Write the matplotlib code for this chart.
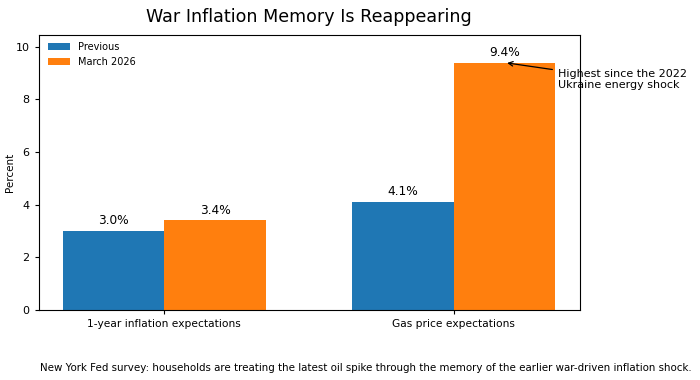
import matplotlib
matplotlib.use("Agg")
import matplotlib.pyplot as plt
import numpy as np

categories = ["1-year inflation expectations", "Gas price expectations"]
previous = [3.0, 4.1]
march_2026 = [3.4, 9.4]
series_names = ["Previous", "March 2026"]

fig, ax = plt.subplots(figsize=(7, 3.8), dpi=100)
fig.subplots_adjust(left=0.055, right=0.828, top=0.908, bottom=0.185)

x = np.arange(len(categories))
w = 0.35
b1 = ax.bar(x - w / 2, previous, w, color="#1f77b4", label=series_names[0])
b2 = ax.bar(x + w / 2, march_2026, w, color="#ff7f0e", label=series_names[1])
for bars, vals in ((b1, previous), (b2, march_2026)):
    ax.bar_label(bars, labels=[f"{v:.1f}%" for v in vals], padding=2.5, fontsize=8.7)

ax.set_xticks(x)
ax.set_xticklabels(categories, fontsize=7.7)
ax.tick_params(axis="y", labelsize=8)
ax.tick_params(length=3)
ax.set_ylabel("Percent", fontsize=7.5, labelpad=0.5)
ax.set_ylim(0, 10.45)
ax.legend(frameon=False, fontsize=7, loc="upper left", borderaxespad=0.35,
          bbox_to_anchor=(0.005, 1.0), handlelength=2.2)
ax.set_title("War Inflation Memory Is Reappearing", fontsize=12.6, pad=9)

ax.annotate("Highest since the 2022\nUkraine energy shock",
            xy=(x[1] + w / 2, march_2026[1]), xytext=(1.36, 8.75),
            va="center", ha="left", fontsize=8,
            arrowprops=dict(arrowstyle="->", color="black", lw=0.9),
            annotation_clip=False)

fig.text(0.057, 0.032, "New York Fed survey: households are treating the latest oil spike through the memory of the earlier war-driven inflation shock.",
         fontsize=7.4, ha="left", va="center")

fig.savefig("out.png", dpi=100)
